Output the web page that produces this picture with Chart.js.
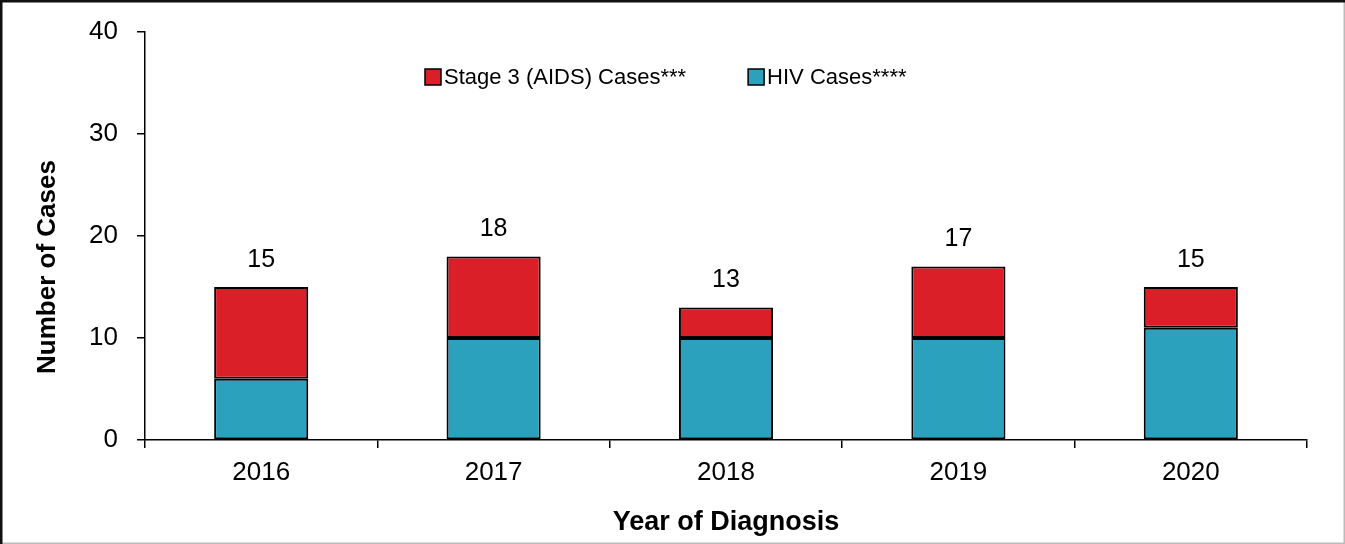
<!DOCTYPE html>
<html>
<head>
<meta charset="utf-8">
<script src="https://cdn.jsdelivr.net/npm/chart.js@4.4.1/dist/chart.umd.min.js"></script>
<style>
    html, body { margin: 0; padding: 0; background: #fff; }
    canvas { display: block; }
</style>
</head>
<body>
<canvas id="chart" width="1345" height="544"></canvas>
<script>
const years = ['2016', '2017', '2018', '2019', '2020'];
const hivCases = [6, 10, 10, 10, 11];
const stage3Cases = [9, 8, 3, 7, 4];
const yTicks = [0, 10, 20, 30, 40];

const FONT = "'Liberation Sans', Arial, sans-serif";

// white background + frame around the figure
const framePlugin = {
    id: 'frame',
    beforeDraw(chart) {
        const ctx = chart.ctx;
        ctx.save();
        ctx.fillStyle = '#fff';
        ctx.fillRect(0, 0, chart.width, chart.height);
        ctx.restore();
    },
    afterDraw(chart) {
        const ctx = chart.ctx;
        ctx.save();
        ctx.strokeStyle = '#bbb';
        ctx.lineWidth = 1.5;
        ctx.beginPath();
        ctx.moveTo(chart.width - 0.75, 0);
        ctx.lineTo(chart.width - 0.75, chart.height - 0.75);
        ctx.lineTo(0, chart.height - 0.75);
        ctx.stroke();
        ctx.strokeStyle = '#111';
        ctx.lineWidth = 2.5;
        ctx.beginPath();
        ctx.moveTo(1.25, chart.height);
        ctx.lineTo(1.25, 1.25);
        ctx.lineTo(chart.width, 1.25);
        ctx.stroke();
        ctx.restore();
    }
};

// totals above each stacked bar
const totalsPlugin = {
    id: 'totals',
    afterDatasetsDraw(chart) {
        const ctx = chart.ctx;
        const top = chart.getDatasetMeta(chart.data.datasets.length - 1);
        ctx.save();
        ctx.font = '25px ' + FONT;
        ctx.fillStyle = '#000';
        ctx.textAlign = 'center';
        ctx.textBaseline = 'middle';
        top.data.forEach((bar, i) => {
            const total = chart.data.datasets.reduce((s, ds) => s + ds.data[i], 0);
            ctx.fillText(String(total), bar.x, bar.y - 27);
        });
        ctx.restore();
    }
};

// legend sitting inside the plot area, stage 3 first
const legendPlugin = {
    id: 'insideLegend',
    afterDraw(chart) {
        const ctx = chart.ctx;
        const area = chart.chartArea;
        const items = chart.data.datasets.slice().reverse();
        ctx.save();
        ctx.font = '22px ' + FONT;
        ctx.textBaseline = 'middle';
        let x = area.left + 280;
        const y = area.top + 45;
        items.forEach(ds => {
            ctx.fillStyle = ds.backgroundColor;
            ctx.fillRect(x, y - 8, 16, 16);
            ctx.strokeStyle = '#000';
            ctx.lineWidth = 1.5;
            ctx.strokeRect(x, y - 8, 16, 16);
            ctx.fillStyle = '#000';
            ctx.fillText(ds.label, x + 19, y + 1);
            x += 19 + ctx.measureText(ds.label).width + 62;
        });
        ctx.restore();
    }
};

// rotated y-axis title
const yTitlePlugin = {
    id: 'yTitle',
    afterDraw(chart) {
        const ctx = chart.ctx;
        ctx.save();
        ctx.translate(48, 267);
        ctx.rotate(-Math.PI / 2);
        ctx.font = 'bold 26px ' + FONT;
        ctx.fillStyle = '#000';
        ctx.textAlign = 'center';
        ctx.textBaseline = 'middle';
        ctx.fillText('Number of Cases', 0, 0);
        ctx.restore();
    }
};

const ctx = document.getElementById('chart').getContext('2d');
new Chart(ctx, {
    type: 'bar',
    data: {
        labels: years,
        datasets: [
            {
                label: 'HIV Cases****',
                data: hivCases,
                backgroundColor: '#2CA1BE',
                borderColor: '#000',
                borderWidth: 2,
                borderSkipped: false
            },
            {
                label: 'Stage 3 (AIDS) Cases***',
                data: stage3Cases,
                backgroundColor: '#DA1F28',
                borderColor: '#000',
                borderWidth: 2,
                borderSkipped: false
            }
        ]
    },
    options: {
        responsive: false,
        animation: false,
        events: [],
        categoryPercentage: 1,
        barPercentage: 0.405,
        layout: {
            padding: { top: 32, right: 38, left: 0, bottom: 0 }
        },
        plugins: {
            legend: { display: false },
            tooltip: { enabled: false }
        },
        scales: {
            x: {
                stacked: true,
                grid: {
                    offset: true,
                    drawOnChartArea: false,
                    drawTicks: true,
                    tickLength: 8,
                    color: '#000',
                    lineWidth: 1.5
                },
                border: { color: '#000', width: 1.5 },
                ticks: {
                    color: '#000',
                    padding: 9,
                    font: { family: FONT, size: 26 }
                },
                title: {
                    display: true,
                    text: 'Year of Diagnosis',
                    color: '#000',
                    padding: { top: 0, bottom: 5 },
                    font: { family: FONT, size: 27, weight: 'bold' }
                },
                afterFit(scale) {
                    scale.height = 104;
                    scale.paddingLeft = 0;
                    scale.paddingRight = 0;
                }
            },
            y: {
                stacked: true,
                min: 0,
                max: 40,
                afterBuildTicks(scale) {
                    scale.ticks = yTicks.map(v => ({ value: v }));
                },
                grid: {
                    drawOnChartArea: false,
                    drawTicks: true,
                    tickLength: 8,
                    color: '#000',
                    lineWidth: 1.5
                },
                border: { color: '#000', width: 1.5 },
                ticks: {
                    color: '#000',
                    padding: 19,
                    font: { family: FONT, size: 26 }
                },
                afterFit(scale) {
                    scale.width = 145;
                    scale.paddingTop = 0;
                    scale.paddingBottom = 0;
                }
            }
        }
    },
    plugins: [framePlugin, totalsPlugin, legendPlugin, yTitlePlugin]
});
</script>
</body>
</html>
